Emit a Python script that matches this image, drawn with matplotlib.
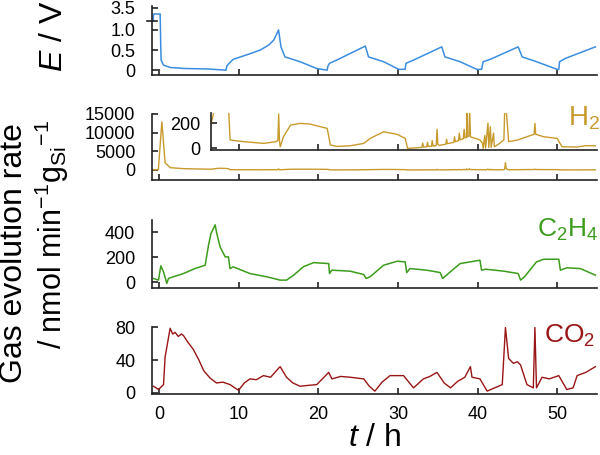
import numpy as np
import matplotlib
matplotlib.use("Agg")
import matplotlib.pyplot as plt

plt.rcParams['font.family'] = ['Liberation Sans', 'DejaVu Sans']
plt.rcParams['mathtext.fontset'] = 'custom'
plt.rcParams['mathtext.rm'] = 'Liberation Sans'
plt.rcParams['mathtext.it'] = 'Liberation Sans:italic'

# potential E / V
t_E = [-0.75, -0.7, 0.13, 0.2, 0.25, 0.55, 1.4, 3.1, 6.0, 8.4, 8.5, 8.7, 9.3, 11.0, 12.7, 13.8,
       14.4, 15.0, 15.3, 15.8, 17.7, 19.8, 21.1, 21.2, 21.4, 22.3, 25.7, 25.9, 26.3, 28.2,
       30.1, 30.9, 31.0, 31.95, 35.5, 35.9, 37.8, 39.9, 40.5, 40.7, 41.6, 45.1, 45.6, 47.4,
       50.0, 50.2, 50.3, 51.0, 54.8]
E = [1.3, 2.5, 2.5, 0.6, 0.25, 0.125, 0.067, 0.042, 0.03, 0.0, 0.1, 0.15, 0.27, 0.38, 0.5, 0.63,
     0.75, 1.0, 0.58, 0.33, 0.21, 0.04, 0.0, 0.1, 0.17, 0.25, 0.58, 0.6, 0.33, 0.21,
     0.02, 0.02, 0.17, 0.25, 0.58, 0.33, 0.21, 0.02, 0.02, 0.21, 0.27, 0.58, 0.33, 0.21,
     0.02, 0.02, 0.21, 0.29, 0.58]

# H2 rate
t_H2 = [-0.7, -0.1, 0.34, 0.75, 1.4, 3.0, 5.0, 6.5, 6.9, 7.5, 8.3, 8.7, 8.9, 10.6, 13.1, 14.6,
        14.9, 15.0, 15.1, 15.2, 15.6, 16.5, 17.7, 18.9, 21.1, 21.5, 22.3, 24.0, 25.7, 26.5,
        28.2, 29.9, 30.9, 31.2, 32.4, 33.0, 33.1, 33.2, 33.6, 33.7, 33.8, 34.2, 34.3, 34.4,
        34.8, 34.9, 35.0, 35.2, 35.5, 36.0, 36.1, 36.2, 36.6, 37.0, 37.1, 37.2, 37.6, 37.7,
        37.8, 38.2, 38.3, 38.4, 38.6, 38.65, 38.7, 38.9, 39.0, 39.1, 40.3, 40.6, 40.7, 40.9,
        41.0, 41.3, 41.4, 41.6, 41.7, 42.0, 42.1, 42.6, 43.3, 43.4, 43.5, 43.6, 43.9, 45.0,
        47.1, 47.2, 47.3, 48.3, 50.0, 50.6, 52.5, 53.5, 54.8]
H2 = [50, 80, 12900, 1900, 600, 350, 250, 190, 300, 450, 400, 320, 64, 51, 37, 50,
      60, 272, 60, 10, 90, 184, 197, 192, 157, 24, 13, 18, 37, 77,
      130, 109, 77, -3, 2, 5, 40, 8, 10, 45, 12, 15, 60, 15,
      20, 150, 30, 20, 25, 30, 70, 35, 40, 45, 90, 50, 60, 120,
      65, 75, 150, 80, 85, 300, 90, 95, 300, 90, 64, 40, -3, 100,
      0, 200, 5, 170, 5, 120, 10, 30, 64, 300, 1950, 300, 51, 64,
      110, 197, 110, 90, 77, 10, 8, 18, 18]

# C2H4 rate
t_C2H4 = [-0.71, -0.08, 0.21, 0.55, 0.96, 1.17, 1.4, 3.06, 4.5, 5.78, 6.2, 6.5, 7.04, 7.2, 7.66,
          8.3, 8.7, 8.9, 9.3, 11.4, 13.5, 15.2, 16.0, 16.9, 18.1, 19.4, 21.3, 21.4, 21.7,
          24.0, 25.7, 26.0, 26.5, 28.2, 29.9, 30.9, 31.1, 31.5, 33.6, 35.3, 35.6, 36.0, 37.8,
          40.3, 40.5, 41.0, 43.3, 45.1, 45.4, 45.9, 47.4, 48.3, 50.2, 50.4, 51.2, 52.9, 54.8]
C2H4 = [29, 16, 131, 83, -11, 29, 35, 69, 109, 136, 296, 389, 461, 403, 283,
        203, 203, 109, 123, 69, 43, 16, 16, 56, 123, 157, 149, 69, 96,
        88, 61, 29, 43, 136, 168, 163, 77, 109, 96, 77, 29, 51, 149,
        176, 96, 104, 88, 69, 16, 43, 163, 184, 184, 96, 115, 109, 56]

# CO2 rate
t_CO2 = [-0.71, -0.08, 0.55, 0.75, 1.38, 1.7, 2.0, 2.4, 2.8, 3.06, 3.6, 4.3, 5.0, 5.6, 6.4, 7.2,
         8.0, 8.9, 9.97, 10.7, 11.4, 12.2, 13.1, 14.0, 15.0, 15.2, 16.0, 16.8, 17.7, 18.7,
         19.8, 20.6, 21.3, 21.7, 22.8, 24.0, 25.7, 26.4, 27.1, 28.0, 29.0, 30.7, 31.95, 33.2,
         34.0, 34.9, 35.8, 36.6, 37.5, 38.4, 39.1, 39.3, 40.3, 41.2, 43.1, 43.5, 43.9, 44.5,
         45.0, 45.4, 46.2, 47.0, 47.2, 47.4, 48.1, 49.0, 50.2, 51.2, 52.0, 52.5, 53.6, 54.8]
CO2 = [8, 4, 10, 44, 79, 72, 74, 69, 72, 70, 62, 53, 40, 27, 18, 12,
       13, 10, 3, 12, 17, 16, 21, 19, 30, 32, 19, 12, 8, 9,
       10, 18, 25, 17, 20, 19, 17, 8, 2, 13, 21, 21, 6, 17,
       20, 25, 12, 6, 14, 19, 32, 19, 17, 2, 10, 80, 42, 36,
       38, 34, 10, 6, 80, 6, 19, 17, 21, 4, 6, 21, 25, 32]

x_ticks = [0, 10, 20, 30, 40, 50]

c_E = '#3a8de0'
c_H2 = '#c89a2c'
c_C2H4 = '#3c9c1c'
c_CO2 = '#9a1515'

fig = plt.figure(figsize=(6, 4.55), dpi=100)


def style(ax, pad=12):
    for s in ['top', 'right']:
        ax.spines[s].set_visible(False)
    for s in ['left', 'bottom']:
        ax.spines[s].set_linewidth(1.2)
        ax.spines[s].set_color('#222222')
    ax.tick_params(direction='in', length=4, width=1.2, labelsize=13, color='#222222')
    ax.tick_params(axis='y', pad=pad)
    ax.tick_params(axis='x', pad=9)
    ax.set_xlim(-0.9, 55)
    ax.set_xticks(x_ticks)
    ax.patch.set_visible(False)


# E panel with a broken axis above 1.2 V
k = 0.1522


def fwd(y):
    y = np.asarray(y, dtype=float)
    return np.where(y <= 1.2, y, 1.2 + (y - 1.2) * k)


def inv(y):
    y = np.asarray(y, dtype=float)
    return np.where(y <= 1.2, y, 1.2 + (y - 1.2) / k)


ax1 = fig.add_axes([0.2533, 0.8352, 0.7417, 0.1516])
ax1.set_yscale('function', functions=(fwd, inv))
ax1.plot(t_E, E, color=c_E, lw=1.1)
style(ax1)
ax1.set_ylim(-0.12, 3.8)
ax1.set_yticks([0, 0.5, 1.0, 3.5])
ax1.set_yticklabels(['0', '0.5', '1.0', '3.5'])
ax1.set_xticklabels([])
ax1.plot([-0.012, 0.012], [1.4, 1.4], transform=ax1.get_yaxis_transform(),
         color='#222222', lw=1.2, clip_on=False)

# H2 panel
ax2 = fig.add_axes([0.2533, 0.6044, 0.7417, 0.1451])
ax2.plot(t_H2, H2, color=c_H2, lw=1.0)
style(ax2)
ax2.set_ylim(-2700, 15000)
ax2.set_yticks([0, 5000, 10000, 15000])
ax2.set_xticklabels([])

ax2i = fig.add_axes([0.3517, 0.6703, 0.6433, 0.0813])
ax2i.plot(t_H2, H2, color=c_H2, lw=1.0)
style(ax2i, pad=8)
ax2i.set_xlim(6.5, 55)
ax2i.set_xticks(x_ticks[1:])
ax2i.set_ylim(-16, 280)
ax2i.set_yticks([0, 200])
ax2i.set_xticklabels([])

# C2H4 panel
ax3 = fig.add_axes([0.2533, 0.3677, 0.7417, 0.1488])
ax3.plot(t_C2H4, C2H4, color=c_C2H4, lw=1.1)
style(ax3)
ax3.set_ylim(-45, 500)
ax3.set_yticks([0, 200, 400])
ax3.set_xticklabels([])

# CO2 panel
ax4 = fig.add_axes([0.2533, 0.1341, 0.7417, 0.148])
ax4.plot(t_CO2, CO2, color=c_CO2, lw=1.0)
style(ax4)
ax4.set_ylim(-1.5, 81)
ax4.set_yticks([0, 40, 80])

# gas labels
fig.text(568 / 600, 1 - 126 / 455, 'H$_2$', color=c_H2, fontsize=20, ha='left', va='baseline')
fig.text(537 / 600, 1 - 237 / 455, 'C$_2$H$_4$', color=c_C2H4, fontsize=19, ha='left', va='baseline')
fig.text(544 / 600, 1 - 343 / 455, 'CO$_2$', color=c_CO2, fontsize=19, ha='left', va='baseline')

# axis titles
fig.text(62 / 600, 1 - 36 / 455, '$E$ / V', fontsize=23, rotation=90,
         rotation_mode='anchor', ha='center', va='baseline')
fig.text(22 / 600, 1 - 253 / 455, 'Gas evolution rate', fontsize=23, rotation=90,
         rotation_mode='anchor', ha='center', va='baseline')
fig.text(62 / 600, 1 - 235 / 455, '/ nmol min$^{-1}$g$_{\\mathrm{Si}}$$^{-1}$', fontsize=22,
         rotation=90, rotation_mode='anchor', ha='center', va='baseline')
fig.text(375 / 600, 1 - 446 / 455, '$t$ / h', fontsize=23, ha='center', va='baseline')

fig.savefig('out.png', dpi=100)
